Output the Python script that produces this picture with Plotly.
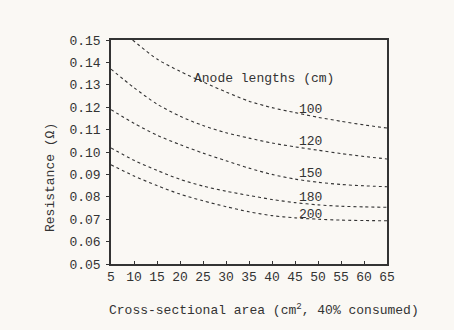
import plotly.graph_objects as go

# Cross-sectional area (cm^2, 40% consumed)
area = [5, 10, 15, 20, 25, 30, 35, 40, 45, 50, 55, 60, 65]
area_100 = [9.7, 15, 20, 25, 30, 35, 40, 45, 50, 55, 60, 65]

# Resistance (ohm) for each anode length (cm)
r_100 = [0.1500, 0.1415, 0.1360, 0.1313, 0.1268, 0.1227, 0.1198, 0.1176, 0.1155, 0.1137, 0.1121, 0.1107]
r_120 = [0.1370, 0.1287, 0.1214, 0.1160, 0.1118, 0.1086, 0.1062, 0.1040, 0.1023, 0.1008, 0.0993, 0.0980, 0.0969]
r_150 = [0.1189, 0.1128, 0.1075, 0.1033, 0.0995, 0.0961, 0.0928, 0.0900, 0.0879, 0.0865, 0.0855, 0.0849, 0.0845]
r_180 = [0.1018, 0.0963, 0.0918, 0.0878, 0.0848, 0.0825, 0.0806, 0.0788, 0.0774, 0.0764, 0.0758, 0.0755, 0.0753]
r_200 = [0.0943, 0.0893, 0.0850, 0.0812, 0.0782, 0.0756, 0.0733, 0.0716, 0.0706, 0.0700, 0.0696, 0.0694, 0.0693]

labels = ["100", "120", "150", "180", "200"]
label_x = 48.3
label_y = [0.1188, 0.1045, 0.0906, 0.0799, 0.0723]

y_ticks = [0.05, 0.06, 0.07, 0.08, 0.09, 0.10, 0.11, 0.12, 0.13, 0.14, 0.15]
x_ticks = [5, 10, 15, 20, 25, 30, 35, 40, 45, 50, 55, 60, 65]

FONT = "Liberation Mono, Courier New, monospace"
INK = "#333333"
BG = "#faf8f4"

fig = go.Figure()
series = [(area_100, r_100), (area, r_120), (area, r_150), (area, r_180), (area, r_200)]
for (xs, ys), name in zip(series, labels):
    fig.add_trace(go.Scatter(
        x=xs, y=ys, mode="lines", name=name,
        line=dict(color=INK, width=1.1, dash="dot", shape="spline", smoothing=0.8),
        showlegend=False, hoverinfo="skip",
    ))

for lab, ly in zip(labels, label_y):
    fig.add_annotation(x=label_x, y=ly, text=lab, showarrow=False,
                       font=dict(family=FONT, size=13, color=INK),
                       xanchor="center", yanchor="middle")

fig.add_annotation(x=38.3, y=0.133, text="Anode lengths (cm)", showarrow=False,
                   font=dict(family=FONT, size=13, color=INK),
                   xanchor="center", yanchor="middle")

# axis titles placed as annotations (offset from plot centre as in the reference)
fig.add_annotation(xref="paper", yref="paper", x=(264 - 111) / 276, y=-(309 - 264) / 224,
                   text="Cross-sectional area (cm<sup>2</sup>, 40% consumed)", showarrow=False,
                   font=dict(family=FONT, size=13, color=INK), xanchor="center", yanchor="middle")
fig.add_annotation(xref="paper", yref="paper", x=-(111 - 50) / 276, y=(264 - 178) / 224,
                   text="Resistance (Ω)", showarrow=False, textangle=-90,
                   font=dict(family=FONT, size=13, color=INK), xanchor="center", yanchor="middle")

fig.update_xaxes(range=[5, 65], tickvals=x_ticks, ticktext=[str(v) for v in x_ticks],
                 showgrid=False, zeroline=False, showline=True, linecolor=INK, linewidth=1.5,
                 mirror=True, ticks="inside", ticklen=3, tickcolor=INK,
                 tickfont=dict(family=FONT, size=13, color=INK))
fig.update_yaxes(range=[0.05, 0.15], tickvals=y_ticks, ticktext=[f"{v:.2f}" for v in y_ticks],
                 showgrid=False, zeroline=False, showline=True, linecolor=INK, linewidth=1.5,
                 mirror=True, ticks="outside", ticklen=3, tickcolor=INK, ticklabelstandoff=3,
                 tickfont=dict(family=FONT, size=13, color=INK))

fig.update_layout(
    width=454, height=330,
    margin=dict(l=111, r=67, t=40, b=66),
    paper_bgcolor=BG, plot_bgcolor=BG,
    font=dict(family=FONT, size=13, color=INK),
)

fig.write_html("out.html", config={"displayModeBar": False},
               post_script="document.body.style.margin='0';document.body.style.background='#faf8f4';")
